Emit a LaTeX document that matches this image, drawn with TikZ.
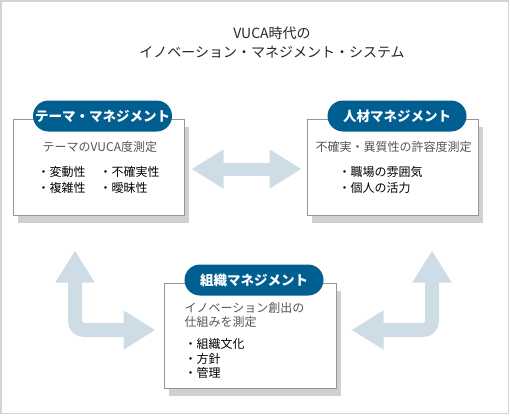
\documentclass[tikz,border=0pt]{standalone}
\usepackage{fontspec}
\setmainfont{Noto Sans CJK JP}
\usepackage{xcolor}
\usetikzlibrary{arrows.meta,positioning,shadows}
\definecolor{pillblue}{RGB}{0,94,145}
\definecolor{flowblue}{RGB}{205,220,229}
\definecolor{boxline}{RGB}{150,150,150}
\definecolor{shade}{RGB}{208,208,208}
\definecolor{bodygray}{RGB}{85,85,85}
\definecolor{framegray}{RGB}{212,212,212}

\begin{document}
\begin{tikzpicture}[x=1pt,y=-1pt,
  box/.style={draw=boxline,line width=1pt,fill=white,minimum width=171pt,minimum height=96pt,inner sep=0pt,
    drop shadow={shadow xshift=5pt,shadow yshift=-8pt,fill=shade,opacity=1}},
  pill/.style={fill=pillblue,text=white,rounded corners=15.5pt,minimum width=139pt,minimum height=31pt,inner sep=0pt,
    font=\fontsize{13.5}{14}\selectfont\bfseries},
  body/.style={anchor=west,inner sep=0pt,text=bodygray,font=\fontsize{12}{14}\selectfont},
  items/.style={anchor=north west,inner sep=0pt,align=left,text=black},
  flow/.style={draw=flowblue,line width=14pt,{Triangle[width=37pt,length=32pt]}-{Triangle[width=37pt,length=32pt]}}]
\useasboundingbox (0,0) rectangle (510,415);
\draw[framegray,line width=1.5pt] (1,1) rectangle (508.5,413.5);

\node[align=center,text=black!85,font=\fontsize{14}{19}\selectfont] (title) at (272,42.5)
  {VUCA時代の\\イノベーション・マネジメント・システム};

% three management boxes
\node[box] (tema) at (98.5,167) {};
\node[box] (jinzai) at (392.5,167) {};
\node[box,minimum width=172pt,minimum height=105pt] (soshiki) at (250,335.5) {};

\node[pill] (temaT) at ([shift={(4,-2.5)}]tema.north) {テーマ・マネジメント};
\node[pill] (jinzaiT) at ([shift={(4.5,-2.5)}]jinzai.north) {人材マネジメント};
\node[pill] (soshikiT) at ([shift={(4,-2.5)}]soshiki.north) {組織マネジメント};

\node[body] (temaM) at ([shift={(30,28)}]tema.north west) {テーマのVUCA度測定};
\node[items,font=\fontsize{12}{16}\selectfont] (temaA) at ([shift={(25,48)}]tema.north west) {・変動性\\・複雑性};
\node[items,font=\fontsize{12}{16}\selectfont] (temaB) at ([shift={(87,48)}]tema.north west) {・不確実性\\・曖昧性};

\node[body] (jinzaiM) at ([shift={(9,28)}]jinzai.north west) {不確実・異質性の許容度測定};
\node[items,font=\fontsize{12}{16}\selectfont] (jinzaiA) at ([shift={(32,48)}]jinzai.north west) {・職場の雰囲気\\・個人の活力};

\node[items,text=bodygray,font=\fontsize{12}{14}\selectfont] (soshikiM) at ([shift={(21,20)}]soshiki.north west)
  {イノベーション創出の\\仕組みを測定};
\node[items,font=\fontsize{12}{14.5}\selectfont] (soshikiA) at ([shift={(21,56)}]soshiki.north west)
  {・組織文化\\・方針\\・管理};

% connecting arrows
\draw[flow,line width=13pt] ([shift={(7,2)}]tema.east) -- ([shift={(-5,2)}]jinzai.west);
\coordinate (upL) at ([shift={(-23.5,35)}]tema.south);
\coordinate (upR) at ([shift={(39.5,35)}]jinzai.south);
\draw[flow,rounded corners=9pt] (upL) |- ([shift={(-8,-5.5)}]soshiki.west);
\draw[flow,rounded corners=9pt] (upR) |- ([shift={(15,-5.5)}]soshiki.east);
\end{tikzpicture}
\end{document}
